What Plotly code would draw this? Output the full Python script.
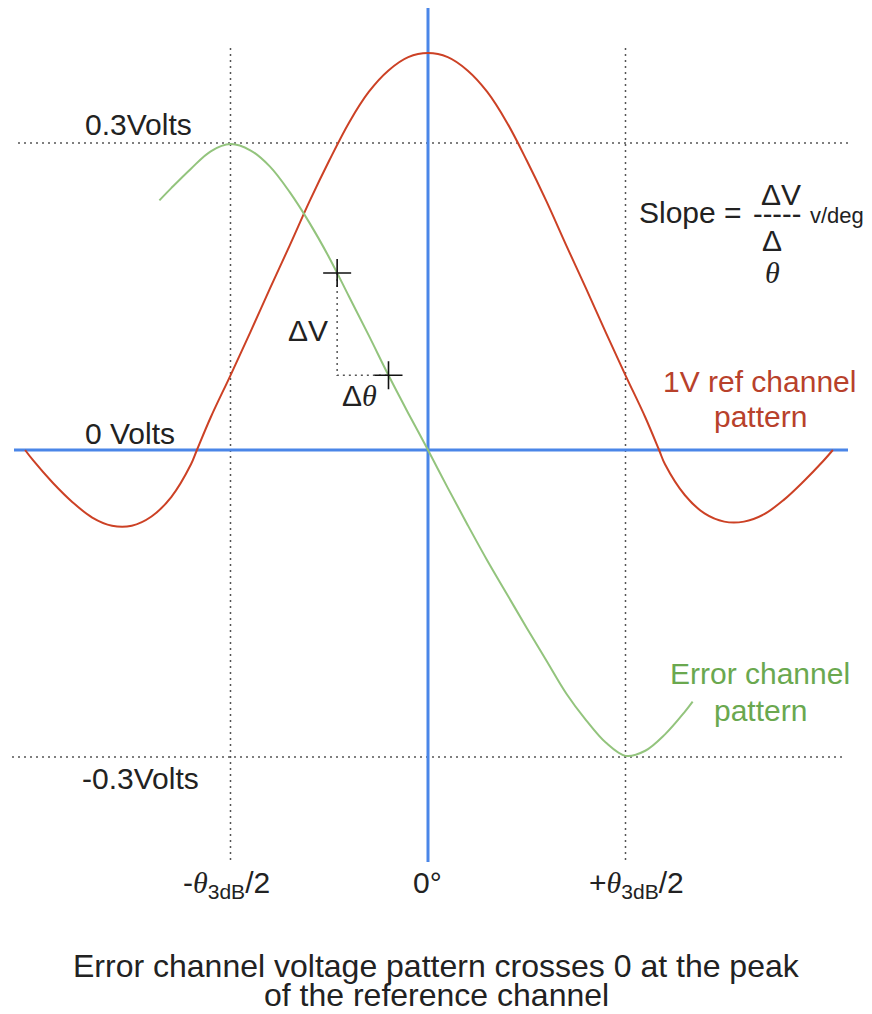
import plotly.graph_objects as go

# Angle in units of theta_3dB/2, voltage in volts
ref_theta = [-2.04, -2.0, -1.9, -1.8, -1.7, -1.6, -1.5, -1.4, -1.3, -1.2, -1.17, -1.1,
             -1.0, -0.9, -0.8, -0.7, -0.6, -0.5, -0.4, -0.3, -0.2, -0.1, 0.0,
             0.1, 0.2, 0.3, 0.4, 0.5, 0.6, 0.7, 0.8, 0.9, 1.0, 1.1, 1.17,
             1.2, 1.3, 1.4, 1.5, 1.6, 1.7, 1.8, 1.9, 2.0, 2.05]
ref_volts = [0.0, -0.010, -0.032, -0.051, -0.066, -0.074, -0.074, -0.065, -0.046, -0.014, 0.0, 0.032,
             0.073, 0.115, 0.158, 0.200, 0.243, 0.283, 0.320, 0.350, 0.371, 0.384, 0.388,
             0.384, 0.371, 0.350, 0.320, 0.283, 0.243, 0.200, 0.158, 0.115, 0.073, 0.032, 0.0,
             -0.014, -0.044, -0.062, -0.070, -0.070, -0.063, -0.049, -0.031, -0.011, 0.0]

err_theta = [-1.36, -1.3, -1.2, -1.1, -1.0, -0.9, -0.8, -0.7, -0.6, -0.5, -0.4, -0.3, -0.2, -0.1,
             0.0, 0.1, 0.2, 0.3, 0.4, 0.5, 0.6, 0.7, 0.8, 0.9, 1.0, 1.1, 1.2, 1.3, 1.34]
err_volts = [0.244, 0.256, 0.275, 0.292, 0.299, 0.293, 0.277, 0.252, 0.222, 0.188, 0.150, 0.112,
             0.073, 0.036, 0.0, -0.037, -0.073, -0.108, -0.141, -0.174, -0.206, -0.238, -0.264,
             -0.286, -0.299, -0.294, -0.278, -0.256, -0.246]

# Two points on the error curve used to illustrate the slope
slope_theta = [-0.46, -0.20]
slope_volts = [0.173, 0.073]

guide_volts = [0.3, -0.3]
guide_theta = [-1.0, 1.0]

W, H = 872, 1014
X0_PX, Y0_PX = 428, 450
PX_PER_UNIT_X = 197.5
PX_PER_VOLT = 1023.0

FONT = "Liberation Sans, Arial, sans-serif"
TXT = "#222222"
RED_LINE = "#cc4125"
RED_TXT = "#b8412b"
GREEN_LINE = "#93c47d"
GREEN_TXT = "#6aa84f"
BLUE = "#4a86e8"
DOT = "#555555"


def px(x):
    return x / W


def py(y):
    return 1 - y / H


fig = go.Figure()

fig.add_trace(go.Scatter(x=ref_theta, y=ref_volts, mode="lines",
                         line=dict(color=RED_LINE, width=2, shape="spline", smoothing=1.0),
                         hoverinfo="skip"))
fig.add_trace(go.Scatter(x=err_theta, y=err_volts, mode="lines",
                         line=dict(color=GREEN_LINE, width=2, shape="spline", smoothing=1.0),
                         hoverinfo="skip"))

# dotted right-angle construction for delta V / delta theta
fig.add_trace(go.Scatter(x=[slope_theta[0], slope_theta[0], slope_theta[1]],
                         y=[slope_volts[0], slope_volts[1], slope_volts[1]],
                         mode="lines", line=dict(color=DOT, width=1.5, dash="2px,4px"),
                         hoverinfo="skip"))
fig.add_trace(go.Scatter(x=slope_theta, y=slope_volts, mode="markers",
                         marker=dict(symbol="cross-thin", size=20,
                                     line=dict(color="#111111", width=1.6)),
                         hoverinfo="skip"))

shapes = []
# dotted voltage guides
for v, (x_a, x_b) in zip(guide_volts, [(18, 848), (12, 845)]):
    shapes.append(dict(type="line", xref="paper", yref="y", x0=px(x_a), x1=px(x_b), y0=v, y1=v,
                       line=dict(color=DOT, width=1.5, dash="2px,4px"), layer="below"))
# dotted beamwidth guides
for t in guide_theta:
    shapes.append(dict(type="line", xref="x", yref="paper", x0=t, x1=t, y0=py(48), y1=py(862),
                       line=dict(color=DOT, width=1.5, dash="2px,4px"), layer="below"))
# blue axes
shapes.append(dict(type="line", xref="paper", yref="y", x0=px(14), x1=px(848), y0=0, y1=0,
                   line=dict(color=BLUE, width=3), layer="below"))
shapes.append(dict(type="line", xref="x", yref="paper", x0=0, x1=0, y0=py(8), y1=py(862),
                   line=dict(color=BLUE, width=3), layer="below"))

THETA = "<span style=\"font-family:'Liberation Serif';font-style:italic\">θ</span>"


def label(text, x, y, size=30, color=TXT, xanchor="center"):
    return dict(text=text, x=px(x), y=py(y), xref="paper", yref="paper",
                xanchor=xanchor, yanchor="middle", showarrow=False,
                font=dict(family=FONT, size=size, color=color))


annotations = [
    label("0.3Volts", 83, 125, xanchor="left"),
    label("0 Volts", 83, 433, xanchor="left"),
    label("-0.3Volts", 80, 778, xanchor="left"),
    label("Slope =", 637, 213, xanchor="left"),
    label("ΔV", 781, 195),
    label("-----", 777, 214, size=29),
    label("v/deg", 808, 216, size=22, xanchor="left"),
    label("Δ", 772, 240),
    label(THETA, 772, 272),
    label("ΔV", 308, 330),
    label("Δ" + THETA, 359, 395),
    label("1V ref channel", 759, 382, color=RED_TXT),
    label("pattern", 760, 416, color=RED_TXT),
    label("Error channel", 760, 673, color=GREEN_TXT),
    label("pattern", 760, 710, color=GREEN_TXT),
    label("-" + THETA + "<sub>3dB</sub>/2", 226, 884),
    label("0°", 427, 882),
    label("+" + THETA + "<sub>3dB</sub>/2", 636, 884),
    label("Error channel voltage pattern crosses 0 at the peak", 436, 966, size=32),
    label("of the reference channel", 436, 995, size=32),
]

fig.update_layout(
    width=W, height=H,
    margin=dict(l=0, r=0, t=0, b=0),
    paper_bgcolor="white", plot_bgcolor="white",
    showlegend=False,
    xaxis=dict(range=[-X0_PX / PX_PER_UNIT_X, (W - X0_PX) / PX_PER_UNIT_X],
               visible=False, fixedrange=True),
    yaxis=dict(range=[-(H - Y0_PX) / PX_PER_VOLT, Y0_PX / PX_PER_VOLT],
               visible=False, fixedrange=True),
    shapes=shapes,
    annotations=annotations,
)

fig.write_html("out.html")
